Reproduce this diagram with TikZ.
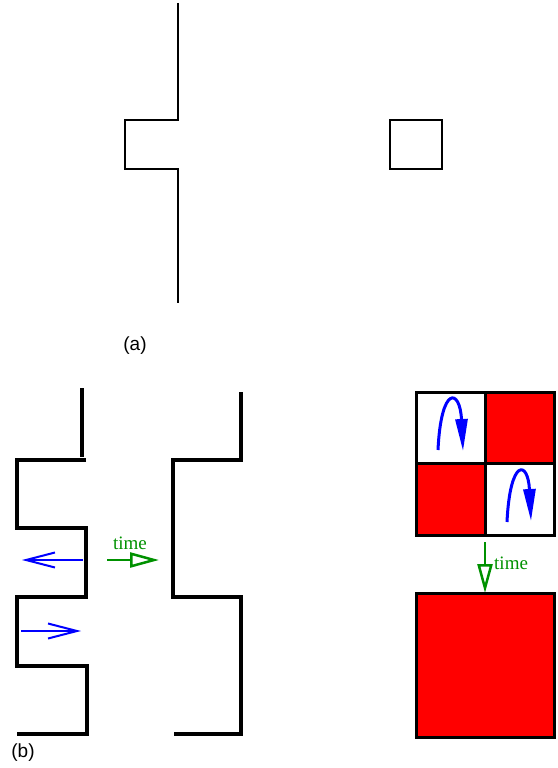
\documentclass[tikz,border=0pt]{standalone}
\usepackage{fontspec}
\setmainfont{Liberation Serif}
\setsansfont{Liberation Sans}
\usetikzlibrary{arrows.meta}
\definecolor{tgreen}{RGB}{0,145,0}
\definecolor{pred}{RGB}{255,0,0}
\definecolor{pblue}{RGB}{0,0,255}
\begin{document}
\begin{tikzpicture}[x=1pt,y=-1pt,
  thinwall/.style={line width=2.2pt,line join=miter},
  thickwall/.style={line width=4pt,line join=miter},
  barb/.style={draw=pblue,line width=2pt,-{Straight Barb[length=29pt,width=15pt]}},
  timearrow/.style={draw=tgreen,line width=2.5pt,-{Triangle[open,length=29pt,width=15pt]}},
  curlarrow/.style={draw=pblue,line width=3pt,-{Triangle[length=32pt,width=12pt]}},
  timelabel/.style={text=tgreen,font=\fontsize{19}{19}\selectfont,inner sep=0pt},
  panel/.style={font=\sffamily\fontsize{19}{19}\selectfont,inner sep=0pt},
  cell/.style={draw=black,line width=3pt}]
\useasboundingbox (0,0) rectangle (557,768);
% (a)
\draw[thinwall] (178,3) -- (178,120) -- (125,120) -- (125,169) -- (178,169) -- (178,303);
\draw[thinwall] (390,120) rectangle (442,169);
\node[panel] (la) at (135,346) {(a)};
% (b) left wall before
\draw[thickwall] (82,388) -- (82,457);
\draw[thickwall] (86,460) -- (17,460) -- (17,528) -- (86,528) -- (86,597) -- (17,597) -- (17,666) -- (87,666) -- (87,734) -- (17,734);
% (b) wall after
\draw[thickwall] (241,392) -- (241,460) -- (173,460) -- (173,597) -- (241,597) -- (241,734) -- (174,734);
% blue arrows
\coordinate (b1s) at (83,560); \coordinate (b1e) at (22,560);
\draw[barb] (b1s) -- (b1e);
\coordinate (b2s) at (21,631); \coordinate (b2e) at (81,631);
\draw[barb] (b2s) -- (b2e);
% green time arrow
\coordinate (t1s) at (107,560); \coordinate (t1e) at (159,560);
\draw[timearrow] (t1s) -- (t1e);
\node[timelabel] (tl1) at (130,543) {time};
% grid
\fill[pred] (485,392) rectangle (554,463);
\fill[pred] (416,463) rectangle (485,535);
\draw[cell] (416,392) rectangle (554,535);
\draw[cell] (485,392) -- (485,535);
\draw[cell] (416,463) -- (554,463);
% curled arrows
\coordinate (c1s) at (438,450); \coordinate (c1e) at (463,451);
\draw[curlarrow] (c1s) .. controls (441,385) and (460,388) .. (c1e);
\coordinate (c2s) at (507,522); \coordinate (c2e) at (531,521);
\draw[curlarrow] (c2s) .. controls (510,458) and (528,460) .. (c2e);
% time arrow down
\coordinate (t2s) at (485,542); \coordinate (t2e) at (485,593);
\draw[timearrow] (t2s) -- (t2e);
\node[timelabel,anchor=west] (tl2) at (494,563) {time};
% big red square
\fill[pred] (416,593) rectangle (554,737);
\draw[cell] (416,593) rectangle (554,737);
\node[panel] (lb) at (23,753) {(b)};
\end{tikzpicture}
\end{document}
